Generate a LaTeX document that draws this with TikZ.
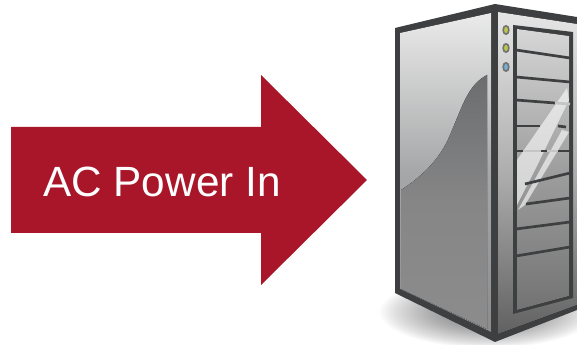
\documentclass[tikz,border=0pt]{standalone}
\usepackage{fontspec}
\setmainfont{Liberation Sans}
\usetikzlibrary{calc,positioning,shapes.geometric}
\definecolor{CARW}{RGB}{169,22,41}
\definecolor{CLINE}{RGB}{62,63,64}
\definecolor{CSWSH}{RGB}{108,109,111}
\definecolor{CSWMD}{RGB}{134,134,135}
\definecolor{CFBOT}{RGB}{140,140,141}
\definecolor{CFMID}{RGB}{166,167,168}
\definecolor{CLEDY}{RGB}{190,200,70}
\definecolor{CLEDB}{RGB}{120,175,215}
\tikzset{
  slotline/.style={CLINE,line width=2.3pt},
  shineband/.style={white,opacity=0.6},
  leddot/.style={ellipse,draw=black!55,line width=1.4pt,minimum width=0.17cm,minimum height=0.25cm,inner sep=0pt},
}
\begin{document}
\begin{tikzpicture}[x=0.03cm,y=-0.03cm]
  \useasboundingbox (0,0) rectangle (577,345);
  % arrow
  \fill[CARW] (11,127) -- (261,127) -- (261,75) -- (367,180) -- (261,285) -- (261,233) -- (11,233) -- cycle;
  \node[font=\fontsize{36.1}{42}\selectfont,text=white,anchor=center] (powerlabel) at (162,182) {AC Power In};
  % shadow
  \begin{scope}
    \clip (370,280) rectangle (577,345);
    \foreach \r in {1.00,0.975,...,0.30} {
      \fill[black,opacity=0.02] (488,312) ellipse ({\r*108} and {\r*36});
    }
  \end{scope}
  % body
  \fill[CLINE] (395,28) -- (495,4) -- (577,17) -- (577,310) -- (495,342) -- (395,293) -- cycle;
  \fill[top color=black!8,bottom color=CFBOT,middle color=CFMID] (400,33) -- (491,13) -- (491,332) -- (400,289) -- cycle;
  \fill[top color=black!10,bottom color=black!62,middle color=black!32] (498,12) -- (577,24) -- (577,305) -- (498,334) -- cycle;
  % swoosh
  \fill[top color=CSWSH,bottom color=CFBOT,middle color=CSWMD] (487,75) .. controls (468,85) and (463,105) .. (450,135) .. controls (440,160) and (420,178) .. (401,190) -- (401,289) -- (487,329) -- cycle;
  % slots
  \fill[CLINE] (513,25) -- (573,32) -- (573,298) -- (513,314) -- cycle;
  \fill[top color=black!16,bottom color=black!55,middle color=black!38] (517,29) -- (569,36) -- (569,296) -- (517,310) -- cycle;
  % shine
  \fill[shineband] (567,88) -- (569,100) -- (535,170) -- (517,205) -- (517,160) -- cycle;
  \fill[shineband] (562,130) -- (569,132) -- (525,205) -- (518,210) -- cycle;
  \draw[slotline] (516,50) -- (570,58);
  \draw[slotline] (516,77) -- (570,82);
  \draw[slotline] (516,100) -- (555,103);
  \draw[CLINE!30,line width=2.3pt] (555,103) -- (570,104);
  \draw[slotline] (516,126) -- (540,126);
  \draw[slotline] (558,126) -- (566,127);
  \draw[CLINE!30,line width=2.3pt] (520,151) -- (570,151);
  \draw[slotline] (517,151) -- (523,151) (541,151) -- (547,151) (558,151) -- (570,151);
  \draw[slotline] (525,184) -- (570,173);
  \draw[slotline] (526,204) -- (570,198);
  \draw[slotline] (516,229) -- (570,222);
  \draw[slotline] (516,256) -- (570,247);
  % leds
  \node[leddot,fill=CLEDY] (ledone) at (506,30) {};
  \node[leddot,fill=CLEDY] (ledtwo) at (506,48) {};
  \node[leddot,fill=CLEDB] (ledthree) at (506,67) {};
\end{tikzpicture}
\end{document}
